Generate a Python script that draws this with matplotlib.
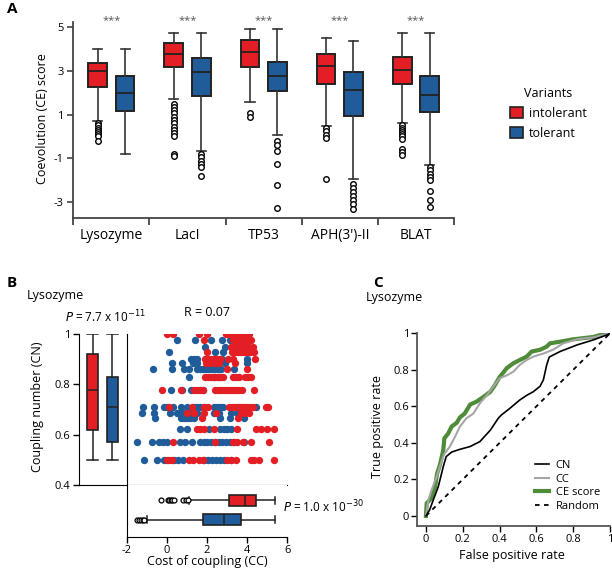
import matplotlib
matplotlib.use("Agg")
import matplotlib.pyplot as plt
from matplotlib.patches import Patch

plt.rcParams['font.family'] = ['Open Sans', 'DejaVu Sans']

W, H = 612, 574
RED = '#e31e24'
BLUE = '#1f5c99'
GREEN = '#4e8c3a'
GRAY = '#a6a6a6'
EDGE = '#222222'

# ---------------- Panel A data ----------------
proteins = ['Lysozyme', 'LacI', 'TP53', "APH(3')-II", 'BLAT']
# [whislo, q1, med, q3, whishi]
intol_stats = [
    [0.71, 2.25, 2.97, 3.36, 3.97],
    [1.70, 3.18, 3.76, 4.25, 4.70],
    [1.55, 3.18, 3.85, 4.38, 4.88],
    [0.49, 2.38, 3.23, 3.76, 4.50],
    [0.61, 2.41, 3.05, 3.60, 4.70],
]
tol_stats = [
    [-0.82, 1.15, 1.99, 2.75, 3.97],
    [-0.65, 1.86, 2.95, 3.58, 4.70],
    [0.05, 2.05, 2.75, 3.40, 4.88],
    [-1.94, 0.93, 2.12, 2.95, 4.35],
    [-1.32, 1.12, 1.88, 2.77, 4.70],
]
intol_fliers = [
    [0.6, 0.5, 0.4, 0.3, 0.2, 0.1, 0.0, -0.2],
    [1.5, 1.35, 1.2, 1.05, 0.9, 0.75, 0.6, 0.45, 0.3, 0.15, 0.0, -0.8, -0.9],
    [1.05, 0.9],
    [0.38, 0.23, 0.08, -0.07, -1.94],
    [0.5, 0.4, 0.3, 0.2, 0.1, 0.0, -0.1, -0.55, -0.7, -0.85],
]
tol_fliers = [
    [],
    [-0.8, -0.95, -1.1, -1.25, -1.4, -1.82],
    [-0.2, -0.4, -0.68, -1.25, -2.2, -3.25],
    [-2.16, -2.35, -2.55, -2.72, -2.9, -3.1, -3.29],
    [-1.4, -1.55, -1.7, -1.85, -2.0, -2.5, -2.88, -3.2],
]
sig_labels = ['***', '***', '***', '***', '***']
legend_labels = ['intolerant', 'tolerant']

# ---------------- Panel B data ----------------
cn_box_intol = [0.50, 0.62, 0.776, 0.919, 1.0]
cn_box_tol = [0.50, 0.572, 0.708, 0.831, 1.0]
cc_box_intol = [1.08, 3.10, 3.88, 4.42, 5.38]
cc_box_tol = [-1.0, 1.78, 2.87, 3.70, 5.38]
cc_fliers_intol = [-0.27, 0.05, 0.12, 0.2, 0.27, 0.35, 0.8, 0.95, 1.05]
cc_fliers_tol = [-1.5, -1.4, -1.3, -1.2, -1.12]

cn_levels = [1.0, 0.977, 0.95, 0.93, 0.90, 0.883, 0.86, 0.83, 0.776,
             0.71, 0.686, 0.667, 0.623, 0.572, 0.50]
red_cc = [
    [0.0, 0.33, 1.62, 2.0, 2.95, 3.05, 3.15, 3.3, 3.45, 3.55, 3.7, 3.85, 4.0, 4.1],
    [1.87, 3.3, 3.45, 3.6, 3.75, 3.9, 4.05, 4.2],
    [3.2, 3.35, 3.5, 3.65, 3.8, 3.95, 4.1, 4.3],
    [2.0, 3.25, 3.4, 3.55, 3.7, 3.85, 4.0, 4.15, 4.35],
    [1.9, 2.05, 2.2, 2.35, 2.5, 2.65, 3.05, 3.3, 4.37],
    [1.95, 2.15, 2.4, 2.6, 3.4],
    [3.0, 4.0],
    [1.9, 2.05, 2.2, 2.35, 2.5, 2.65, 2.8, 3.3, 3.45, 3.6, 3.9, 4.05, 4.2],
    [-0.25, 0.7, 1.35, 1.5, 1.65, 1.8, 2.4, 2.55, 2.7, 2.85, 3.0, 3.15, 3.3,
     3.45, 3.6, 3.75, 4.33],
    [0.13, 1.25, 1.85, 2.05, 3.1, 3.25, 3.4, 3.55, 3.7, 3.85, 4.0, 4.15, 4.3,
     4.92, 5.05],
    [1.0, 1.35, 1.85, 2.45, 3.7, 3.9, 4.1],
    [1.75, 3.55],
    [1.5, 1.65, 1.85, 2.35, 3.5, 4.45, 4.7, 5.0, 5.35],
    [0.33, 2.4, 3.3, 3.5, 3.8, 4.17, 5.08],
    [0.0, 0.13, 0.27, 1.1, 1.3, 1.6, 1.8, 3.0, 3.2, 3.45, 4.2, 4.35, 4.6, 5.33],
]
blue_cc = [
    [],
    [0.5, 1.42, 2.2, 2.75, 3.17],
    [1.9, 2.9],
    [0.13, 2.4, 2.8],
    [1.2, 1.35, 1.5, 2.75, 4.0],
    [0.25, 0.75, 1.28, 1.5, 2.9, 4.0],
    [-0.67, 0.25, 0.85, 1.1, 1.5, 1.65, 1.8, 1.95, 2.1, 2.25, 2.4, 2.55, 2.7, 3.33],
    [1.1, 2.35, 2.6],
    [0.2, 0.75, 1.2, 1.8],
    [-1.17, -0.63, -0.15, 0.0, 0.3, 0.7, 1.0, 1.35, 1.5, 1.65, 1.85, 2.35, 2.5,
     2.65, 2.8, 4.42],
    [-1.25, -0.63, 0.15, 0.5, 0.65, 0.8, 0.95, 1.1, 1.3, 1.5, 2.35, 2.6, 3.2, 3.5],
    [-0.58, 0.7, 0.85, 1.0, 1.15, 1.35, 2.65, 3.15, 3.85],
    [0.67, 1.0, 2.1, 2.65, 2.85, 3.0, 3.2],
    [-1.5, -0.75, -0.4, -0.2, 0.0, 0.67, 0.9, 1.25, 1.65, 1.85, 2.0, 2.2, 2.4,
     2.6, 2.75, 2.95, 3.15, 3.35, 3.85],
    [-1.13, -0.5, -0.15, 0.35, 0.55, 0.8, 1.85, 2.05, 2.25, 2.45, 2.65, 2.85, 3.2],
]

# ---------------- Panel C data ----------------
ce_fpr = [0, 0.004, 0.03, 0.05, 0.06, 0.076, 0.094, 0.10, 0.12, 0.14, 0.167, 0.185,
          0.21, 0.24, 0.275, 0.31, 0.35, 0.375, 0.40, 0.44, 0.475, 0.51, 0.547,
          0.574, 0.62, 0.656, 0.674, 0.728, 0.80, 0.91, 0.98, 1.0]
ce_tpr = [0, 0.07, 0.097, 0.16, 0.23, 0.28, 0.36, 0.425, 0.45, 0.49, 0.51, 0.54,
          0.56, 0.61, 0.626, 0.65, 0.68, 0.717, 0.76, 0.81, 0.836, 0.854, 0.872,
          0.90, 0.91, 0.927, 0.945, 0.954, 0.967, 0.98, 1.0, 1.0]
cc_fpr = [0, 0.013, 0.03, 0.058, 0.085, 0.10, 0.13, 0.158, 0.185, 0.22, 0.257,
          0.293, 0.33, 0.366, 0.40, 0.44, 0.475, 0.51, 0.547, 0.583, 0.64, 0.69,
          0.746, 0.82, 0.91, 1.0]
cc_tpr = [0, 0.088, 0.14, 0.215, 0.30, 0.34, 0.38, 0.434, 0.49, 0.535, 0.56,
          0.617, 0.66, 0.708, 0.754, 0.77, 0.79, 0.827, 0.854, 0.872, 0.89, 0.91,
          0.945, 0.967, 0.978, 1.0]
cn_fpr = [0, 0.02, 0.04, 0.067, 0.094, 0.11, 0.14, 0.185, 0.24, 0.293, 0.35,
          0.393, 0.41, 0.457, 0.51, 0.547, 0.583, 0.62, 0.638, 0.656, 0.67,
          0.728, 0.82, 0.91, 0.98, 1.0]
cn_tpr = [0, 0.033, 0.088, 0.16, 0.27, 0.325, 0.35, 0.365, 0.38, 0.407, 0.47,
          0.535, 0.553, 0.59, 0.635, 0.66, 0.68, 0.71, 0.745, 0.827, 0.87, 0.90,
          0.936, 0.964, 0.99, 1.0]
roc_labels = ['CN', 'CC', 'CE score', 'Random']


def rect(x0, y0, x1, y1):
    return [x0 / W, 1 - y1 / H, (x1 - x0) / W, (y1 - y0) / H]


def mkstats(s, fl=None):
    return dict(whislo=s[0], q1=s[1], med=s[2], q3=s[3], whishi=s[4],
                fliers=fl if fl is not None else [])


fig = plt.figure(figsize=(W / 100, H / 100), dpi=100)

SPC = '#333333'
box_kw = dict(patch_artist=True, showfliers=True,
              medianprops=dict(color=EDGE, lw=1.3),
              whiskerprops=dict(color=SPC, lw=1.2),
              capprops=dict(color=SPC, lw=1.2))

# ================= Panel A =================
axA = fig.add_axes(rect(73.3, 21.7, 454, 218.3))
n = len(proteins)
xs = list(range(n))
for stats, fl, off, col in [(intol_stats, intol_fliers, -0.18, RED),
                            (tol_stats, tol_fliers, 0.18, BLUE)]:
    axA.bxp([mkstats(s, f) for s, f in zip(stats, fl)],
            positions=[x + off for x in xs], widths=0.245, capwidths=0.12,
            boxprops=dict(facecolor=col, edgecolor=EDGE, lw=1.4),
            flierprops=dict(marker='o', markerfacecolor='white',
                            markeredgecolor='black', markersize=4, mew=1.0),
            **box_kw)
axA.set_xlim(-0.5, n - 0.5)
axA.set_ylim(-3.73, 5.23)
for sp in ['top', 'right']:
    axA.spines[sp].set_visible(False)
for sp in ['left', 'bottom']:
    axA.spines[sp].set_color('#444444')
    axA.spines[sp].set_linewidth(1.3)
axA.set_yticks([5, 3, 1, -1, -3])
axA.set_yticklabels(['5', '3', '1', '-1', '-3'], fontsize=8)
axA.set_xticks(xs)
axA.set_xticklabels(proteins, fontsize=10)
axA.tick_params(axis='x', length=0, pad=7)
axA.set_xticks([x - 0.5 for x in range(n + 1)], minor=True)
axA.tick_params(axis='x', which='minor', length=5, width=1.3, color='#444444')
axA.tick_params(axis='y', length=4, width=1.2, color='#444444', pad=3)
for x, t in zip(xs, sig_labels):
    axA.text(x, 5.27, t, ha='center', va='center', fontsize=8, color='#555555')
fig.text(43 / W, 1 - 119 / H, 'Coevolution (CE) score', rotation=90,
         ha='center', va='center', fontsize=9)
handles = [Patch(facecolor=RED, edgecolor=EDGE, lw=1.2),
           Patch(facecolor=BLUE, edgecolor=EDGE, lw=1.2)]
fig.legend(handles, legend_labels, title='Variants', loc='upper left',
           bbox_to_anchor=(499 / W, 1 - 76 / H), frameon=False,
           fontsize=9, title_fontsize=9, handlelength=1.0,
           handleheight=1.0, handletextpad=0.5, labelspacing=0.55)
fig.text(7 / W, 1 - 9 / H, 'A', fontsize=11, fontweight='bold', va='center')

# ================= Panel B =================
X0, Xm, X1 = 78.7, 126.7, 287.3
Y0, Ym, Y1 = 334, 485, 536.5
axCN = fig.add_axes(rect(X0, Y0, Xm, Ym))
axS = fig.add_axes(rect(Xm, Y0, X1, Ym))
axCC = fig.add_axes(rect(Xm, Ym, X1, Y1))

axCN.bxp([mkstats(cn_box_intol), mkstats(cn_box_tol)], positions=[0.29, 0.70],
         widths=0.23, capwidths=0.22, showfliers=False, patch_artist=True,
         medianprops=dict(color=EDGE, lw=1.1),
         whiskerprops=dict(color='#222', lw=1.1),
         capprops=dict(color='#222', lw=1.1),
         boxprops=dict(lw=1.2))
for patch, col in zip(axCN.patches, [RED, BLUE]):
    patch.set_facecolor(col)
    patch.set_edgecolor(EDGE)
axCN.set_xlim(0, 1)
axCN.set_ylim(0.4, 1.0)
axCN.set_xticks([])
axCN.set_yticks([0.4, 0.6, 0.8, 1.0])
axCN.set_yticklabels(['0.4', '0.6', '0.8', '1'], fontsize=8)
axCN.tick_params(axis='y', length=4, width=1.0, pad=2)
for sp in ['top', 'right']:
    axCN.spines[sp].set_visible(False)

for lev, row in zip(cn_levels, blue_cc):
    axS.scatter(row, [lev] * len(row), s=28, color=BLUE, linewidths=0, zorder=2)
for lev, row in zip(cn_levels, red_cc):
    axS.scatter(row, [lev] * len(row), s=28, color=RED, linewidths=0, zorder=3)
axS.set_xlim(-2, 6)
axS.set_ylim(0.4, 1.0)
axS.set_xticks([])
axS.set_yticks([])
for sp in ['top', 'right']:
    axS.spines[sp].set_visible(False)

axCC.bxp([mkstats(cc_box_tol, cc_fliers_tol), mkstats(cc_box_intol, cc_fliers_intol)],
         positions=[0.33, 0.70], widths=0.2, capwidths=0.14, vert=False,
         patch_artist=True,
         flierprops=dict(marker='o', markerfacecolor='white',
                         markeredgecolor='black', markersize=3.5, mew=0.9),
         medianprops=dict(color=EDGE, lw=1.1),
         whiskerprops=dict(color='#222', lw=1.1),
         capprops=dict(color='#222', lw=1.1),
         boxprops=dict(lw=1.2))
for patch, col in zip(axCC.patches, [BLUE, RED]):
    patch.set_facecolor(col)
    patch.set_edgecolor(EDGE)
axCC.set_xlim(-2, 6)
axCC.set_ylim(0, 1)
axCC.set_yticks([])
axCC.set_xticks([-2, 0, 2, 4, 6])
axCC.set_xticklabels(['-2', '0', '2', '4', '6'], fontsize=8)
axCC.tick_params(axis='x', length=4, width=1.0, pad=2)
for sp in ['top', 'right']:
    axCC.spines[sp].set_visible(False)

fig.text(7 / W, 1 - 283 / H, 'B', fontsize=11, fontweight='bold', va='center')
fig.text(27 / W, 1 - 296 / H, 'Lysozyme', fontsize=9, va='center')
fig.text(65 / W, 1 - 317 / H, r'$P$ = 7.7 x 10$^{-11}$', fontsize=8.5, va='center')
fig.text(206.7 / W, 1 - 313 / H, 'R = 0.07', fontsize=9, va='center', ha='center')
fig.text(283 / W, 1 - 507 / H, r'$P$ = 1.0 x 10$^{-30}$', fontsize=8.5, va='center')
fig.text(37 / W, 1 - 407 / H, 'Coupling number (CN)', rotation=90,
         ha='center', va='center', fontsize=9)
fig.text(207 / W, 1 - 562 / H, 'Cost of coupling (CC)', ha='center',
         va='center', fontsize=9)

# ================= Panel C =================
axC = fig.add_axes(rect(417.3, 333.3, 610, 526))
axC.plot(cn_fpr, cn_tpr, color='black', lw=1.2, label=roc_labels[0], zorder=3)
axC.plot(cc_fpr, cc_tpr, color=GRAY, lw=1.5, label=roc_labels[1], zorder=2)
axC.plot(ce_fpr, ce_tpr, color=GREEN, lw=3.0, label=roc_labels[2], zorder=1)
axC.plot([0, 1], [0, 1], color='black', lw=1.3, ls=(0, (2.5, 2.5)),
         label=roc_labels[3], zorder=1)
axC.set_xlim(-0.047, 1.0)
axC.set_ylim(-0.055, 1.0)
axC.set_xticks([0, 0.2, 0.4, 0.6, 0.8, 1])
axC.set_xticklabels(['0', '0.2', '0.4', '0.6', '0.8', '1'], fontsize=8)
axC.set_yticks([0, 0.2, 0.4, 0.6, 0.8, 1])
axC.set_yticklabels(['0', '0.2', '0.4', '0.6', '0.8', '1'], fontsize=8)
axC.tick_params(length=4, width=1.0, pad=2)
for sp in ['top', 'right']:
    axC.spines[sp].set_visible(False)
for sp in ['left', 'bottom']:
    axC.spines[sp].set_color('#555555')
    axC.spines[sp].set_linewidth(1.3)
axC.legend(loc='lower right', bbox_to_anchor=(1.0, 0.02), frameon=False,
           fontsize=8, handlelength=1.3, handletextpad=0.6, labelspacing=0.25)
fig.text(373 / W, 1 - 283 / H, 'C', fontsize=11, fontweight='bold', va='center')
fig.text(366 / W, 1 - 298 / H, 'Lysozyme', fontsize=9, va='center')
fig.text(378 / W, 1 - 427 / H, 'True positive rate', rotation=90,
         ha='center', va='center', fontsize=9)
fig.text(512 / W, 1 - 556 / H, 'False positive rate', ha='center',
         va='center', fontsize=9)

fig.savefig('out.png', dpi=100)
